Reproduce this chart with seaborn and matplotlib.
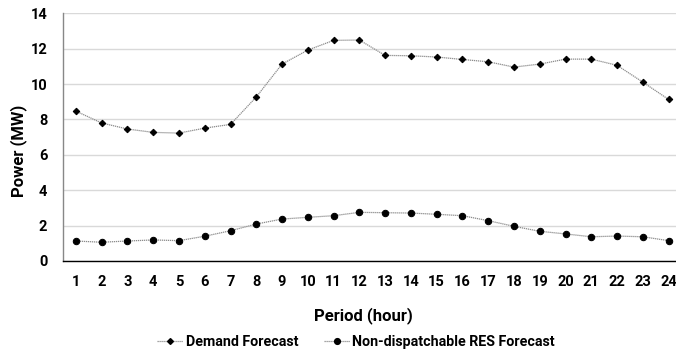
import numpy as np
import pandas as pd
import matplotlib
matplotlib.use("Agg")
import matplotlib.pyplot as plt
import seaborn as sns
from matplotlib.lines import Line2D

periods = list(range(1, 25))
demand = [8.47, 7.80, 7.46, 7.27, 7.23, 7.51, 7.72, 9.27, 11.13, 11.92, 12.47, 12.49,
          11.62, 11.60, 11.53, 11.39, 11.26, 10.96, 11.13, 11.41, 11.41, 11.06, 10.11, 9.13]
res = [1.13, 1.06, 1.13, 1.19, 1.15, 1.40, 1.71, 2.09, 2.37, 2.47, 2.56, 2.75,
       2.73, 2.71, 2.64, 2.56, 2.28, 1.96, 1.68, 1.53, 1.37, 1.41, 1.37, 1.15]
series_names = ["Demand Forecast", "Non-dispatchable RES Forecast"]
y_ticks = [0, 2, 4, 6, 8, 10, 12, 14]

sns.set_style("white")
plt.rcParams['font.family'] = ['Roboto', 'DejaVu Sans']
plt.rcParams['font.weight'] = 'bold'
plt.rcParams['text.color'] = 'black'
plt.rcParams['axes.labelcolor'] = 'black'
plt.rcParams['xtick.color'] = 'black'
plt.rcParams['ytick.color'] = 'black'

df = pd.DataFrame({"Period": periods * 2,
                   "Power": demand + res,
                   "Series": [series_names[0]] * 24 + [series_names[1]] * 24})

fig = plt.figure(figsize=(6.76, 3.52), dpi=100)
ax = fig.add_axes([63 / 676, 91 / 352, (681.5 - 63) / 676, (261 - 13.3) / 352])

styles = {series_names[0]: dict(marker="D", markersize=3.3),
          series_names[1]: dict(marker="o", markersize=4.6)}
for name in series_names:
    sub = df[df["Series"] == name]
    sns.lineplot(data=sub, x="Period", y="Power", ax=ax, color="#8c8c8c",
                 linestyle=(0, (1, 0.6)), linewidth=0.9, marker=styles[name]["marker"],
                 markersize=styles[name]["markersize"], markerfacecolor="black",
                 markeredgecolor="black", legend=False, zorder=3)

ax.set_xlim(0.5, 24.5)
ax.set_ylim(0, 14)
ax.set_yticks(y_ticks)
ax.set_yticklabels([str(v) for v in y_ticks], fontsize=10.5, fontweight="bold")
ax.set_xticks(periods)
ax.set_xticklabels([str(p) for p in periods], fontsize=10.5, fontweight="bold")
ax.set_xticks(np.arange(0.5, 25, 1), minor=True)
ax.tick_params(axis="x", which="major", length=0, pad=10)
ax.tick_params(axis="x", which="minor", length=3.6, width=0.8, color="black", direction="out")
ax.tick_params(axis="y", which="major", length=4.3, width=0.8, color="#888888", pad=7)

ax.grid(axis="y", color="#d9d9d9", linewidth=1.0)
ax.set_axisbelow(True)
for s in ["top", "right"]:
    ax.spines[s].set_visible(False)
ax.spines["left"].set_color("#888888")
ax.spines["left"].set_linewidth(1.0)
ax.spines["bottom"].set_color("black")
ax.spines["bottom"].set_linewidth(1.0)

ax.set_ylabel("Power (MW)", fontsize=12, fontweight="bold")
ax.yaxis.set_label_coords(-0.058, 0.444)
ax.set_xlabel("Period (hour)", fontsize=12, fontweight="bold", labelpad=13, x=0.485)

handles = [Line2D([0], [0], color="#8c8c8c", linestyle=(0, (1, 0.6)), linewidth=0.9,
                  marker=styles[n]["marker"], markersize=styles[n]["markersize"] * 0.9,
                  markerfacecolor="black", markeredgecolor="black") for n in series_names]
fig.legend(handles, series_names, loc="center", bbox_to_anchor=(356 / 676, 10 / 352),
           ncol=2, frameon=False, handlelength=1.8, columnspacing=1.8,
           handletextpad=0.2, prop={"weight": "bold", "size": 10.3})

fig.savefig("out.png", dpi=100)
